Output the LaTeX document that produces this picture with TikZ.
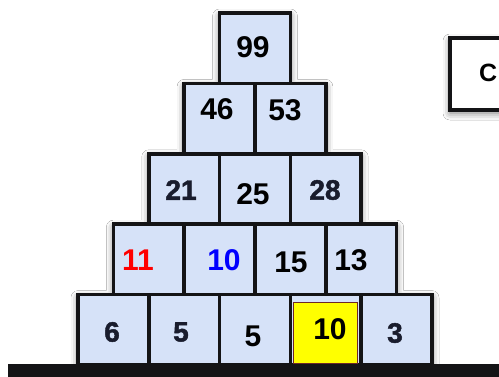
\documentclass[tikz,border=0pt]{standalone}
\usepackage{fontspec}
\setmainfont{Liberation Sans}
\newfontfamily\handfont[BoldFeatures={FakeBold=1.6}]{Liberation Sans}
\usetikzlibrary{shadows.blur}
\definecolor{cellblue}{RGB}{214,226,248}
\definecolor{edge}{RGB}{20,20,22}
\definecolor{navy}{RGB}{25,28,45}
\definecolor{yel}{RGB}{255,255,0}
\definecolor{yedge}{RGB}{110,40,40}
\begin{document}
\begin{tikzpicture}[x=1pt,y=-1pt,
  cell/.style={draw=edge, line width=3.5pt, fill=cellblue, minimum width=70.8pt, minimum height=70.4pt, inner sep=0pt, outer sep=0pt},
  num/.style={font=\bfseries\fontsize{30}{30}\selectfont, inner sep=0pt},
  hand/.style={font=\handfont\bfseries\fontsize{28}{28}\selectfont, text=navy, inner sep=0pt},
  soft/.style={blur shadow={shadow xshift=0pt, shadow yshift=-3pt, shadow blur radius=7pt, shadow opacity=55}}
]
\useasboundingbox (0,0) rectangle (499,376);
\clip (0,0) rectangle (499,376);
\fill[white] (0,0) rectangle (499,376);
% shadow of the pyramid outline
\path[soft, fill=cellblue] (78,365) -- (78,294.6) -- (113.4,294.6) -- (113.4,224.2) -- (148.8,224.2) -- (148.8,153.8) -- (184.2,153.8) -- (184.2,83.4) -- (219.6,83.4) -- (219.6,13) -- (290.4,13) -- (290.4,83.4) -- (325.8,83.4) -- (325.8,153.8) -- (361.2,153.8) -- (361.2,224.2) -- (396.6,224.2) -- (396.6,294.6) -- (432,294.6) -- (432,365) -- cycle;
% ground
\fill[edge] (8,364) rectangle (510,385);
% row 5 (bottom)
\node[cell] (c51) at (113.4,329.8) {};
\node[cell] (c52) at (184.2,329.8) {};
\node[cell] (c53) at (255,329.8) {};
\node[cell] (c54) at (325.8,329.8) {};
\node[cell] (c55) at (396.6,329.8) {};
% row 4
\node[cell] (c41) at (148.8,259.4) {};
\node[cell] (c42) at (219.6,259.4) {};
\node[cell] (c43) at (290.4,259.4) {};
\node[cell] (c44) at (361.2,259.4) {};
% row 3
\node[cell] (c31) at (184.2,189) {};
\node[cell] (c32) at (255,189) {};
\node[cell] (c33) at (325.8,189) {};
% row 2
\node[cell] (c21) at (219.6,118.6) {};
\node[cell] (c22) at (290.4,118.6) {};
% row 1
\node[cell] (c11) at (255,48.2) {};
% highlighted cell
\node[draw=yedge, line width=0.8pt, fill=yel, minimum width=64pt, minimum height=61pt, inner sep=0pt] (hl) at (325,332.5) {};
% numbers
\node[num] (t11) at (253,47) {99};
\node[num] (t21) at (217,109) {46};
\node[num] (t22) at (285,110) {53};
\node[hand] (t31) at (181,190) {21};
\node[num] (t32) at (253,194) {25};
\node[hand] (t33) at (325,190) {28};
\node[num, text=red] (t41) at (138,260) {11};
\node[num, text=blue] (t42) at (224,260) {10};
\node[num] (t43) at (291,262) {15};
\node[num] (t44) at (351,260) {13};
\node[hand] (t51) at (112,332) {6};
\node[hand] (t52) at (181,332) {5};
\node[num] (t53) at (253,336) {5};
\node[num] (t54) at (330,329) {10};
\node[hand] (t55) at (395,333) {3};
% side box, cut off by the right edge
\path[soft, fill=white, draw=edge, line width=4pt] (450,38) rectangle (540,110);
\node[font=\bfseries\fontsize{25}{25}\selectfont, anchor=east, inner sep=0pt] (cl) at (497.5,72.5) {C};
\end{tikzpicture}
\end{document}
